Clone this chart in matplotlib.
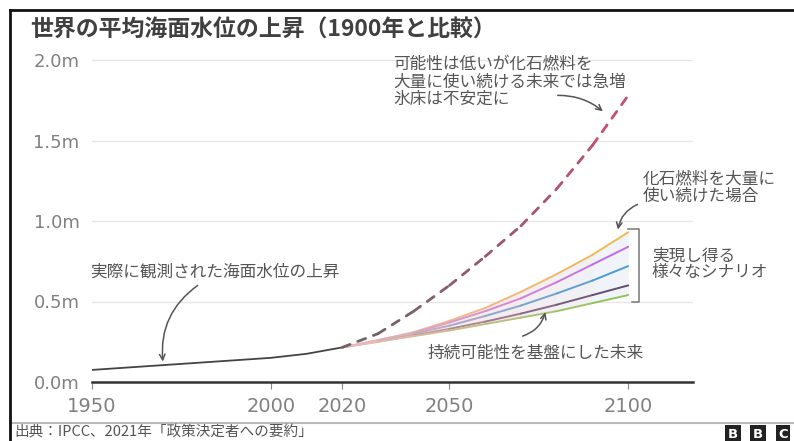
import matplotlib.pyplot as plt
from matplotlib.lines import Line2D
from matplotlib.collections import LineCollection
from matplotlib.colors import to_rgb

plt.rcParams['font.family'] = ['Noto Sans CJK JP', 'DejaVu Sans']

# observed sea level rise (m, relative to 1900)
obs_years = [1950, 1960, 1970, 1980, 1990, 2000, 2010, 2020]
obs_values = [0.075, 0.09, 0.105, 0.12, 0.135, 0.15, 0.175, 0.215]

# projections 2020-2100
proj_years = [2020, 2030, 2040, 2050, 2060, 2070, 2080, 2090, 2100]
very_high = [0.215, 0.26, 0.31, 0.38, 0.46, 0.56, 0.67, 0.79, 0.93]
high = [0.215, 0.26, 0.305, 0.37, 0.44, 0.52, 0.62, 0.73, 0.84]
middle = [0.215, 0.255, 0.30, 0.35, 0.41, 0.475, 0.55, 0.63, 0.72]
low = [0.215, 0.25, 0.29, 0.33, 0.375, 0.425, 0.48, 0.54, 0.60]
very_low = [0.215, 0.25, 0.285, 0.32, 0.36, 0.40, 0.44, 0.49, 0.54]
low_likelihood = [0.215, 0.30, 0.44, 0.60, 0.78, 0.97, 1.20, 1.47, 1.78]

scenarios = [very_high, high, middle, low, very_low]
scenario_colors = ['#f2b84b', '#bf66e6', '#3f9ad4', '#5a4868', '#8cc653']

x_ticks = [1950, 2000, 2020, 2050, 2100]
y_ticks = [0.0, 0.5, 1.0, 1.5, 2.0]
y_labels = ['0.0m', '0.5m', '1.0m', '1.5m', '2.0m']


def blend(c0, c1, t):
    a, b = to_rgb(c0), to_rgb(c1)
    return tuple(a[k] + (b[k] - a[k]) * t for k in range(3))


def gradient_line(ax, xs, ys, c0, c1, **kw):
    segs = [[(xs[i], ys[i]), (xs[i + 1], ys[i + 1])] for i in range(len(xs) - 1)]
    n = len(segs)
    cols = [blend(c0, c1, (i + 0.5) / n) for i in range(n)]
    lc = LineCollection(segs, colors=cols, capstyle='round', **kw)
    ax.add_collection(lc)


W, H = 794, 441
fig = plt.figure(figsize=(W / 100, H / 100), dpi=100)
ax = fig.add_axes([92 / W, 59 / H, 601 / W, 330 / H])
ax.set_xlim(1950, 1950 + 601 / 3.575)
ax.set_ylim(0, 330 / 161)

for s in ['top', 'right', 'left']:
    ax.spines[s].set_visible(False)
ax.spines['bottom'].set_color('#333333')
ax.spines['bottom'].set_linewidth(1.8)

ax.set_xticks(x_ticks)
ax.set_xticklabels([str(x) for x in x_ticks], family='DejaVu Sans', fontsize=14, color='#808080')
ax.set_yticks(y_ticks)
ax.set_yticklabels(y_labels, family='DejaVu Sans', fontsize=13, color='#808080')
ax.tick_params(axis='x', length=5, color='#888888', pad=6)
ax.tick_params(axis='y', length=0, pad=9)
ax.yaxis.grid(True, color='#e6e6e6', lw=1)
ax.set_axisbelow(True)

# shaded range of scenarios, pink near 2020 fading to pale blue
n = len(proj_years) - 1
for i in range(n):
    ax.fill_between(proj_years[i:i + 2], very_low[i:i + 2], very_high[i:i + 2],
                    color=blend('#fbe3e3', '#eef5fb', i / n), lw=0, zorder=1)

ax.plot(obs_years, obs_values, color='#444444', lw=1.3, zorder=3)
for vals, c in zip(scenarios, scenario_colors):
    gradient_line(ax, proj_years, vals, '#f1b9b9', c, lw=1.4, zorder=3)
gradient_line(ax, proj_years, low_likelihood, '#666666', '#c84f6e', lw=2,
              linestyle=(0, (3, 3)), zorder=3)

# bracket
ax.plot([2100, 2103, 2103, 2101], [0.95, 0.95, 0.50, 0.50], color='#777777', lw=1.1)

txt = dict(fontsize=12, color='#555555')
arrow = dict(arrowstyle='->', color='#555555', lw=1.1)

ax.text(1949.4, 0.68, '実際に観測された海面水位の上昇', va='center', ha='left', **txt)
ax.annotate('', xy=(1969.9, 0.11), xytext=(1980.2, 0.61),
            arrowprops=dict(connectionstyle='arc3,rad=0.3', **arrow))

ax.text(2044, 0.18, '持続可能性を基盤にした未来', va='center', ha='left', **txt)
ax.annotate('', xy=(2077, 0.45), xytext=(2069.7, 0.28),
            arrowprops=dict(connectionstyle='arc3,rad=0.3', **arrow))

ax.text(2034.2, 2.025, '可能性は低いが化石燃料を\n大量に使い続ける未来では急増\n氷床は不安定に',
        va='top', ha='left', linespacing=1.03, **txt)
ax.annotate('', xy=(2093.5, 1.67), xytext=(2079.5, 1.78),
            arrowprops=dict(connectionstyle='arc3,rad=-0.2', **arrow))

ax.text(2104.1, 1.21, '化石燃料を大量に\n使い続けた場合', va='center', ha='left',
        linespacing=1.05, **txt)
ax.annotate('', xy=(2097, 0.93), xytext=(2103.3, 1.11),
            arrowprops=dict(connectionstyle='arc3,rad=0.3', **arrow))

ax.text(2106.6, 0.73, '実現し得る\n様々なシナリオ', va='center', ha='left',
        linespacing=1.0, **txt)

# title
fig.text(30 / W, 1 - 30 / H, '世界の平均海面水位の上昇（1900年と比較）',
         fontsize=16.5, fontweight='bold', color='#404040', va='center', ha='left')

# footer
fig.add_artist(Line2D([10 / W, 1], [1 - 423 / H] * 2, color='#bbbbbb', lw=1.5))
fig.text(14 / W, 1 - 432 / H, '出典：IPCC、2021年「政策決定者への要約」',
         fontsize=10.5, color='#555555', va='center', ha='left')
for i, letter in enumerate('BBC'):
    fig.text((733 + i * 25) / W, 1 - 434 / H, letter, fontsize=9.5, fontweight='bold',
             color='white', ha='center', va='center', family='DejaVu Sans',
             bbox=dict(boxstyle='square,pad=0.2', fc='#222222', ec='none'))

# frame
fig.add_artist(Line2D([10 / W, 10 / W], [0, 1 - 10 / H], color='#111111', lw=2))
fig.add_artist(Line2D([10 / W, 1], [1 - 10 / H] * 2, color='#111111', lw=2))

fig.savefig('out.png', dpi=100)
